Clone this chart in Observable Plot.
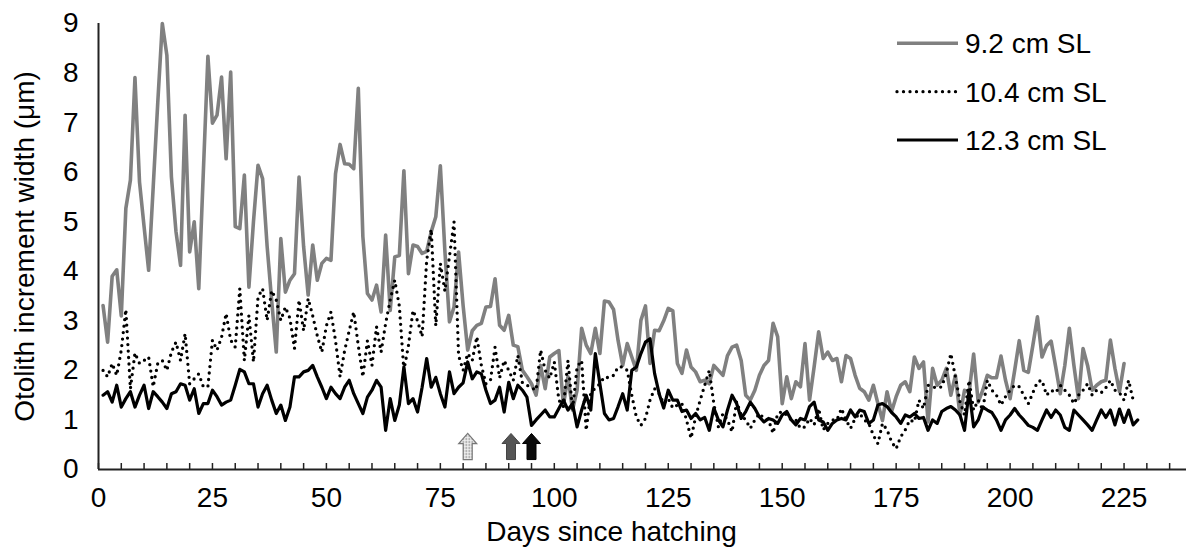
<!DOCTYPE html>
<html><head><meta charset="utf-8">
<script src="https://cdn.jsdelivr.net/npm/d3@7"></script>
<script src="https://cdn.jsdelivr.net/npm/@observablehq/plot@0.6"></script>
<style>
html,body{margin:0;padding:0;background:#fff;}
#chart{width:1186px;height:555px;overflow:hidden;}
</style></head><body><div id="chart"></div>
<script>
// ---- data (day 1 onward, one value per day) ----
const seriesNames = ["9.2 cm SL", "10.4 cm SL", "12.3 cm SL"];
const sl92 = [
3.31,2.57,3.9,4.03,3.1,5.27,5.84,7.91,5.8,4.9,
4.02,5.7,7.4,9.0,8.36,5.9,4.8,4.12,7.15,4.39,
5.0,3.65,6.0,8.34,6.99,7.15,7.92,6.27,8.02,4.9,
4.86,5.94,3.68,5.0,6.14,5.87,4.5,3.4,2.37,4.66,
3.58,3.82,3.95,5.9,4.5,3.52,4.53,3.82,4.16,4.26,
4.22,5.97,6.56,6.17,6.16,6.07,7.69,4.7,3.55,3.42,
3.72,3.18,4.73,3.21,4.29,4.32,6.03,3.95,4.53,4.5,
4.36,4.4,4.8,5.1,6.13,4.4,2.98,3.28,4.39,3.3,
2.41,2.8,2.91,2.95,3.28,3.29,3.85,2.91,2.81,3.11,
2.51,2.48,2.0,1.87,1.73,1.5,2.1,1.63,2.27,2.34,
2.4,1.3,1.87,1.2,1.6,2.85,2.51,2.34,2.85,2.34,
3.4,3.38,3.23,2.6,2.1,2.54,2.27,2.0,3.01,3.3,
2.14,2.81,2.8,3.0,3.25,3.2,2.14,1.94,2.41,2.07,
1.97,1.77,1.8,1.73,2.1,2.0,1.9,2.3,2.47,2.51,
2.2,1.5,1.4,1.6,1.9,2.1,2.2,2.95,2.68,1.33,
1.87,1.43,1.77,1.67,2.54,1.4,2.07,2.78,2.24,2.37,
2.2,2.24,1.77,2.3,2.24,1.9,1.64,1.57,1.4,1.7,
1.33,0.99,1.57,1.17,1.47,1.7,1.77,1.57,2.27,2.04,
2.17,0.96,2.04,1.7,1.8,2.04,1.5,1.9,1.1,1.6,
1.55,2.33,1.36,1.6,1.9,1.85,1.85,2.29,1.8,1.43,
2.0,2.6,2.0,1.96,2.51,3.08,2.27,2.5,2.59,2.07,
1.53,2.1,2.85,2.1,1.43,2.44,2.1,1.6,1.7,1.77,
1.8,2.61,2.04,1.57,2.14
];
const sl104 = [
2.0,1.87,2.14,1.9,2.41,3.23,1.63,2.35,2.14,2.2,
2.27,1.67,2.14,2.2,2.0,2.37,2.57,2.2,2.74,1.73,
1.83,1.93,1.67,1.67,2.61,2.41,2.67,3.15,2.61,2.47,
3.65,2.2,3.11,2.17,3.48,3.65,3.01,3.61,3.42,3.01,
3.28,3.05,2.44,3.42,2.8,3.45,3.1,2.7,2.37,2.9,
3.18,2.6,1.87,2.4,2.8,3.18,2.5,1.87,2.6,2.1,
2.88,2.37,2.95,3.42,3.82,3.3,2.0,2.5,3.21,3.0,
2.68,4.22,4.85,2.9,4.16,3.6,4.3,5.0,2.3,2.0,
2.34,2.2,2.68,2.1,1.73,1.8,2.47,1.85,2.2,2.0,
1.8,2.3,1.75,1.7,1.65,1.6,2.41,2.0,1.84,2.17,
1.4,1.27,2.2,1.2,2.07,2.2,0.79,1.55,1.64,1.73,
1.87,1.85,1.9,2.07,2.07,2.0,1.5,1.06,0.89,1.03,
1.4,1.63,1.53,1.33,1.43,1.24,1.3,1.33,1.0,0.63,
1.06,1.4,1.7,2.0,1.33,0.86,1.13,1.0,0.76,1.37,
1.1,1.0,0.83,1.0,1.13,1.03,1.0,0.73,1.13,1.17,
1.1,1.0,1.0,0.83,0.86,1.03,0.9,1.23,0.8,0.93,
1.0,1.0,1.23,1.0,0.83,1.03,1.13,1.0,0.93,0.69,
0.52,0.93,0.8,0.56,0.42,0.66,0.8,1.0,0.96,1.4,
1.23,1.7,1.67,1.64,1.67,1.94,2.34,1.87,1.37,1.1,
1.8,1.2,1.4,1.2,1.8,1.6,1.5,1.3,1.47,1.6,
1.7,1.67,1.5,1.33,1.55,1.77,1.8,1.5,1.6,1.55,
1.7,1.6,1.5,1.33,1.5,1.6,1.73,1.5,1.6,1.55,
1.65,1.8,1.6,1.55,1.4,1.8,1.4
];
const sl123 = [
1.5,1.57,1.36,1.7,1.26,1.43,1.57,1.26,1.5,1.7,
1.23,1.57,1.47,1.36,1.23,1.53,1.57,1.73,1.7,1.4,
1.63,1.13,1.33,1.33,1.6,1.47,1.3,1.36,1.4,1.7,
2.02,1.97,1.73,1.73,1.26,1.53,1.7,1.4,1.13,1.3,
0.99,1.26,1.87,1.87,1.97,2.0,2.1,1.87,1.66,1.43,
1.66,1.53,1.43,1.66,1.8,1.53,1.33,1.13,1.46,1.6,
1.8,1.66,0.79,1.43,0.99,1.3,2.07,1.33,1.43,1.16,
1.66,2.24,1.66,1.86,1.53,1.26,1.97,1.53,1.66,1.75,
2.17,1.83,1.97,1.93,1.6,1.33,1.4,1.66,1.16,1.76,
1.43,1.7,1.6,1.46,0.89,1.0,1.1,1.2,1.06,1.06,
1.23,1.4,1.2,1.33,0.86,1.2,1.5,1.2,2.34,1.73,
1.13,1.0,1.03,1.27,1.53,1.2,2.0,2.07,2.34,2.57,
2.64,1.94,1.53,1.24,1.6,1.4,1.4,1.17,1.2,1.03,
1.13,1.0,1.05,0.79,1.24,1.0,0.86,1.2,1.5,1.33,
1.03,1.17,1.36,1.23,1.06,0.96,1.03,1.0,0.93,1.1,
1.17,1.0,0.9,1.03,1.0,1.27,1.36,1.0,0.96,0.79,
0.93,1.0,1.03,1.0,1.2,1.06,1.2,1.17,0.93,1.0,
1.3,1.33,1.27,1.15,1.06,0.93,1.1,1.06,1.13,1.03,
1.05,0.79,1.0,0.93,1.17,1.23,1.27,1.2,1.1,0.79,
1.6,0.86,1.0,1.26,1.2,1.15,1.0,0.79,1.0,1.1,
1.23,1.1,1.0,0.89,0.85,0.79,1.0,1.2,1.05,1.2,
1.1,0.85,0.79,1.2,1.1,1.0,0.9,0.79,1.0,1.2,
1.05,1.2,0.9,1.22,0.95,1.2,0.9,1.0
];
const xTickLabels = [0, 25, 50, 75, 100, 125, 150, 175, 200, 225];
const xMinorTicks = [0,5,10,15,20,25,30,35,40,45,50,55,60,65,70,75,80,85,90,95,100,105,110,115,120,125,130,135,140,145,150,155,160,165,170,175,180,185,190,195,200,205,210,215,220,225,230,235];
const yTickLabels = [0, 1, 2, 3, 4, 5, 6, 7, 8, 9];
const arrowDays = [81, 90.5, 95];

const toRows = (arr) => arr.map((v, i) => ({day: i + 1, value: v}));

const font = "'Liberation Sans', Arial, sans-serif";

const arrowSymbol = {
  draw(ctx, size) {
    const r = Math.sqrt(size / Math.PI);
    const hw = r, sw = 0.5 * r;
    const top = -1.45 * r, base = -0.33 * r, bottom = 1.45 * r;
    ctx.moveTo(0, top);
    ctx.lineTo(hw, base);
    ctx.lineTo(sw, base);
    ctx.lineTo(sw, bottom);
    ctx.lineTo(-sw, bottom);
    ctx.lineTo(-sw, base);
    ctx.lineTo(-hw, base);
    ctx.closePath();
  }
};

const plot = Plot.plot({
  width: 1186,
  height: 555,
  marginLeft: 98,
  marginRight: 0,
  marginTop: 23,
  marginBottom: 86,
  style: {fontFamily: font, fontSize: "28px", color: "#000", background: "#fff", overflow: "visible"},
  x: {domain: [0, 238.7]},
  y: {domain: [0, 9]},
  marks: [
    Plot.axisY({ticks: yTickLabels, tickSize: 0, tickPadding: 20, label: null, fontSize: 28}),
    Plot.axisX({ticks: xTickLabels, tickSize: 0, tickPadding: 18, label: null, fontSize: 28}),
    Plot.tickX(xMinorTicks, {x: d => d, insetTop: 440, stroke: "#222", strokeWidth: 1.5}),
    Plot.ruleY([0], {stroke: "#222", strokeWidth: 2}),
    Plot.ruleX([0], {stroke: "#222", strokeWidth: 2}),
    Plot.line(toRows(sl92), {x: "day", y: "value", stroke: "#808080", strokeWidth: 3.6, strokeLinejoin: "round"}),
    Plot.line(toRows(sl104), {x: "day", y: "value", stroke: "#000", strokeWidth: 3.3, strokeDasharray: "0 6.5", strokeLinecap: "round", strokeLinejoin: "round"}),
    Plot.line(toRows(sl123), {x: "day", y: "value", stroke: "#000", strokeWidth: 3.2, strokeLinejoin: "round"}),
    Plot.dot([arrowDays[0]], {x: d => d, frameAnchor: "bottom", dy: -23, symbol: arrowSymbol, r: 9, fill: "url(#dotfill)", stroke: "#777", strokeWidth: 1.2}),
    Plot.dot([arrowDays[1]], {x: d => d, frameAnchor: "bottom", dy: -23, symbol: arrowSymbol, r: 9, fill: "#555", stroke: "#444", strokeWidth: 1}),
    Plot.dot([arrowDays[2]], {x: d => d, frameAnchor: "bottom", dy: -23, symbol: arrowSymbol, r: 9, fill: "#0a0a0a", stroke: "#000", strokeWidth: 1}),
    Plot.text(["Otolith increment width (μm)"], {text: d => d, frameAnchor: "left", textAnchor: "middle", lineAnchor: "middle", rotate: -90, dx: -73, fontSize: 28, fill: "#000"}),
    Plot.text(["Days since hatching"], {text: d => d, frameAnchor: "bottom", dy: 71, dx: -31, fontSize: 28, fill: "#000"})
  ]
});

// pattern for the light dotted arrow
const svg = d3.select(plot);
const defs = svg.insert("defs", ":first-child");
const pat = defs.append("pattern").attr("id", "dotfill").attr("width", 3).attr("height", 3).attr("patternUnits", "userSpaceOnUse");
pat.append("rect").attr("width", 3).attr("height", 3).attr("fill", "#eeeeee");
pat.append("circle").attr("cx", 1.5).attr("cy", 1.5).attr("r", 0.8).attr("fill", "#6a6a6a");

// legend (layout only)
const legend = [
  {name: seriesNames[0], y: 43.3, stroke: "#808080", width: 3.6, dash: null},
  {name: seriesNames[1], y: 91.7, stroke: "#000", width: 3.3, dash: "0 6.5"},
  {name: seriesNames[2], y: 140, stroke: "#000", width: 3.2, dash: null}
];
const lg = svg.append("g").attr("font-family", font).attr("font-size", 28).attr("text-anchor", "start");
legend.forEach(d => {
  lg.append("line").attr("x1", 897).attr("x2", 958).attr("y1", d.y).attr("y2", d.y)
    .attr("stroke", d.stroke).attr("stroke-width", d.width)
    .attr("stroke-dasharray", d.dash).attr("stroke-linecap", d.dash ? "round" : "butt");
  lg.append("text").attr("x", 965).attr("y", d.y).attr("dy", "0.36em").attr("fill", "#000").attr("text-anchor", "start").text(d.name);
});

document.getElementById("chart").appendChild(plot);
</script>
</body></html>
